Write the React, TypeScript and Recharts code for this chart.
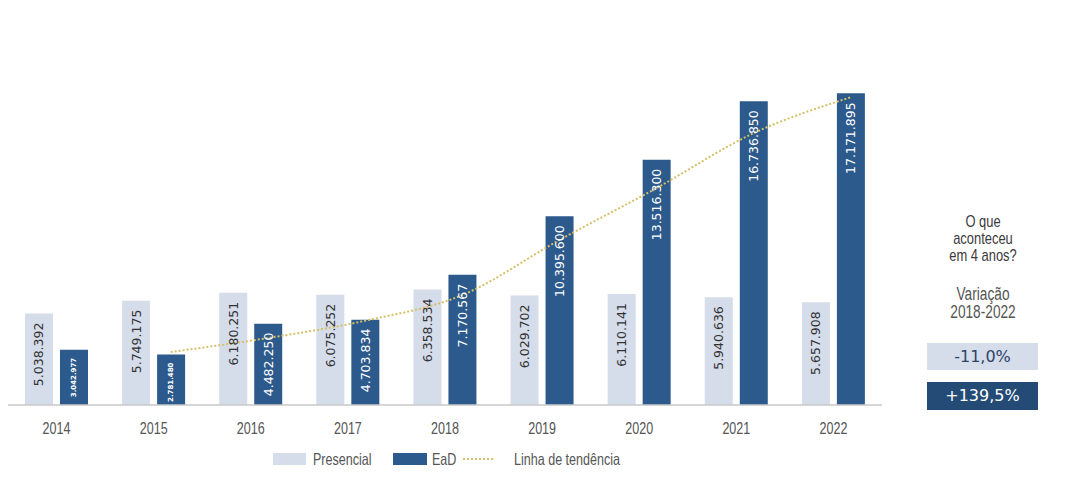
import { Bar, ComposedChart, LabelList, Line, XAxis, YAxis } from "recharts"

const years = ["2014", "2015", "2016", "2017", "2018", "2019", "2020", "2021", "2022"]
const presencial = [5038392, 5749175, 6180251, 6075252, 6358534, 6029702, 6110141, 5940636, 5657908]
const ead = [3042977, 2781480, 4482250, 4703834, 7170567, 10395600, 13516300, 16736850, 17171895]
// trend line (starts at 2015)
const trend = [null, 2920000, 3690000, 4640000, 6050000, 9080000, 11940000, 14970000, 16950000]

const variationLabels = ["-11,0%", "+139,5%"]

const PRES_COLOR = "#d5dcea"
const EAD_COLOR = "#2d5a8c"
const TREND_COLOR = "#d6c067"
// no narrow font installed, so Liberation Sans gets squeezed horizontally
const NARROW = "'Liberation Sans', Arial, sans-serif"
const SQUEEZE = 0.76
const LABEL_FONT = "'DejaVu Sans', Verdana, sans-serif"

const data = years.map((year, i) => ({
  year,
  presencial: presencial[i],
  ead: ead[i],
  trend: trend[i],
}))

function formatBR(value: number): string {
  return String(Math.round(value)).replace(/\B(?=(\d{3})+(?!\d))/g, ".")
}

function makeInsideLabel(fill: string) {
  return function InsideLabel(props: any) {
    const { x, y, width, value } = props
    const small = value < 3500000
    const cx = x + width / 2
    const top = y + (small ? 8 : 9)
    return (
      <text
        x={cx}
        y={top}
        transform={`rotate(-90 ${cx} ${top})`}
        textAnchor="end"
        dominantBaseline="central"
        fill={fill}
        fontFamily={LABEL_FONT}
        fontSize={small ? 7 : 12.5}
        fontWeight={small ? 700 : 400}
      >
        {formatBR(value)}
      </text>
    )
  }
}

function YearTick(props: any) {
  const { x, y, payload } = props
  return (
    <g transform={`translate(${x},${y})`}>
      <text
        transform={`scale(${SQUEEZE},1)`}
        x={0}
        y={27}
        textAnchor="middle"
        fill="#555"
        fontSize={16.5}
        fontFamily={NARROW}
      >
        {payload.value}
      </text>
    </g>
  )
}

const legendText = {
  position: "absolute" as const,
  top: 450,
  height: 18,
  lineHeight: "18px",
  fontFamily: NARROW,
  fontSize: 16.5,
  color: "#555",
  whiteSpace: "nowrap" as const,
  transform: `scaleX(${SQUEEZE})`,
  transformOrigin: "left center",
}

export default function App() {
  return (
    <div style={{ position: "absolute", left: 0, top: 0, width: 1072, height: 495, background: "#fff" }}>
      <ComposedChart
        width={1072}
        height={495}
        data={data}
        margin={{ top: 42, right: 190, left: 8, bottom: 60 }}
        barGap={7}
        barSize={28}
      >
        <XAxis
          dataKey="year"
          height={30}
          tickLine={false}
          tickSize={0}
          axisLine={{ stroke: "#c9c9c9", strokeWidth: 1.5 }}
          tick={<YearTick />}
        />
        <XAxis xAxisId="trend" dataKey="year" hide padding={{ left: 17, right: -17 }} />
        <YAxis hide domain={[0, 20000000]} />
        <Bar dataKey="presencial" fill={PRES_COLOR} isAnimationActive={false}>
          <LabelList dataKey="presencial" content={makeInsideLabel("#333")} />
        </Bar>
        <Bar dataKey="ead" fill={EAD_COLOR} isAnimationActive={false}>
          <LabelList dataKey="ead" content={makeInsideLabel("#fff")} />
        </Bar>
        <Line
          xAxisId="trend"
          type="monotone"
          dataKey="trend"
          stroke={TREND_COLOR}
          strokeWidth={2}
          strokeDasharray="2 2"
          dot={false}
          connectNulls
          isAnimationActive={false}
        />
      </ComposedChart>

      {/* legend */}
      <span style={{ position: "absolute", left: 273, top: 453, width: 33, height: 12, background: PRES_COLOR }} />
      <span style={{ ...legendText, left: 313 }}>Presencial</span>
      <span style={{ position: "absolute", left: 393, top: 453, width: 34, height: 12, background: EAD_COLOR }} />
      <span style={{ ...legendText, left: 432 }}>EaD</span>
      <svg width={30} height={4} style={{ position: "absolute", left: 463, top: 457 }}>
        <line x1={0} y1={2} x2={30} y2={2} stroke={TREND_COLOR} strokeWidth={2} strokeDasharray="2 2" />
      </svg>
      <span style={{ ...legendText, left: 514 }}>Linha de tendência</span>

      {/* side note */}
      <div
        style={{
          position: "absolute",
          left: 903,
          top: 213,
          width: 160,
          textAlign: "center",
          fontFamily: NARROW,
          color: "#3a3a3a",
          transform: `scaleX(${SQUEEZE})`,
          transformOrigin: "center",
        }}
      >
        <div style={{ fontSize: 17, lineHeight: "17px" }}>
          O que
          <br />
          aconteceu
          <br />
          em 4 anos?
        </div>
        <div style={{ fontSize: 18, lineHeight: "18px", color: "#555", marginTop: 21 }}>
          Variação
          <br />
          2018-2022
        </div>
      </div>
      <div
        style={{
          position: "absolute",
          left: 927,
          top: 343,
          width: 111,
          height: 27,
          background: PRES_COLOR,
          color: "#2c4468",
          fontFamily: LABEL_FONT,
          fontSize: 16,
          lineHeight: "27px",
          textAlign: "center",
        }}
      >
        {variationLabels[0]}
      </div>
      <div
        style={{
          position: "absolute",
          left: 927,
          top: 382,
          width: 111,
          height: 28,
          background: "#234b76",
          color: "#fff",
          fontFamily: LABEL_FONT,
          fontSize: 16,
          lineHeight: "28px",
          textAlign: "center",
        }}
      >
        {variationLabels[1]}
      </div>
    </div>
  )
}
